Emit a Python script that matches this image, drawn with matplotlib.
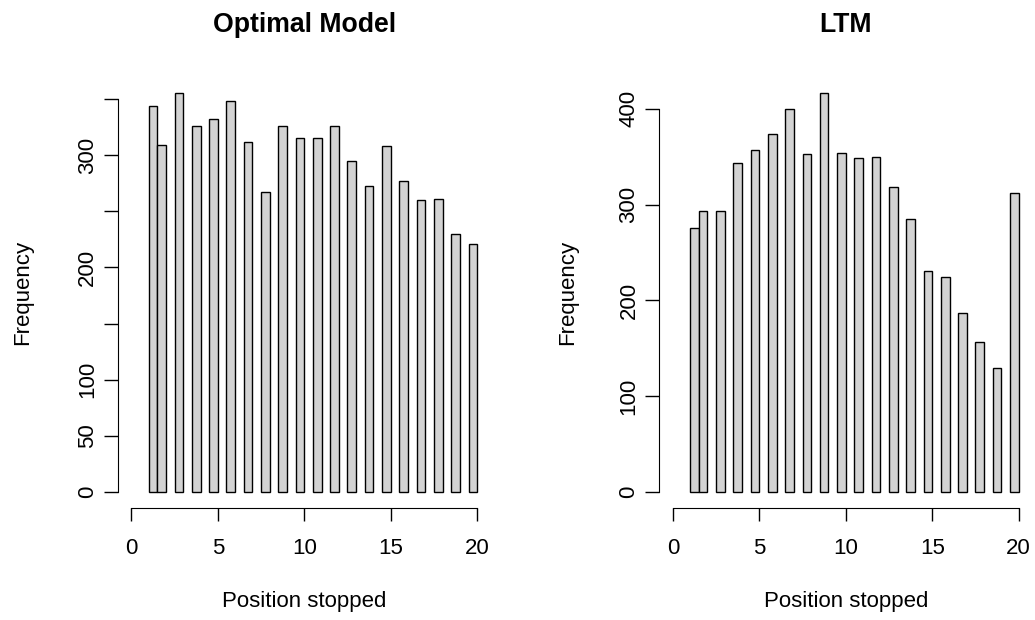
import numpy as np
from matplotlib import pyplot as plt

plt.rcParams['font.family'] = ['Liberation Sans', 'DejaVu Sans']

positions = np.arange(1, 21)
optimal_counts = [344, 309, 355, 326, 332, 348, 312, 267, 326, 315,
                  315, 326, 295, 273, 308, 277, 260, 261, 230, 221]
ltm_counts = [276, 293, 293, 343, 357, 374, 400, 353, 416, 354,
              349, 350, 318, 285, 231, 224, 187, 157, 129, 312]

optimal_yticks = [0, 50, 100, 150, 200, 250, 300, 350]
optimal_ylabels = ['0', '50', '100', '', '200', '', '300', '']
ltm_yticks = [0, 100, 200, 300, 400]
ltm_ylabels = ['0', '100', '200', '300', '400']
xticks = [0, 5, 10, 15, 20]

W, H = 1035, 620
fig = plt.figure(figsize=(W / 100, H / 100), dpi=100)

panels = [
    ("Optimal Model", optimal_counts, optimal_yticks, optimal_ylabels, 117.5, 23),
    ("LTM", ltm_counts, ltm_yticks, ltm_ylabels, 659.0, 568),
]

for title, counts, yt, yl, left_px, ylab_x in panels:
    ax = fig.add_axes([left_px / W, 112 / H, 373.5 / W, 430.5 / H])
    counts = np.array(counts)
    # R hist bins: [1,1.5], (1.5,2], (2.5,3], ...
    lefts = np.where(positions == 1, 1.0, positions - 0.5)
    ax.bar(lefts, counts, width=0.5, align='edge', color='#D3D3D3',
           edgecolor='black', linewidth=1.0)
    m = counts.max()
    ax.set_xlim(-0.8, 20.8)
    ax.set_ylim(-0.04 * m, 1.04 * m)
    for s in ['top', 'right']:
        ax.spines[s].set_visible(False)
    ax.spines['left'].set_bounds(yt[0], yt[-1])
    ax.spines['bottom'].set_bounds(0, 20)
    ax.set_xticks(xticks)
    ax.set_xticklabels([str(t) for t in xticks])
    ax.set_yticks(yt)
    ax.set_yticklabels(yl, rotation=90, va='center')
    ax.tick_params(axis='x', length=9.4, width=1.0, labelsize=16, pad=12)
    ax.tick_params(axis='y', length=10, width=1.0, labelsize=16, pad=4)
    cx = (left_px + 373.5 / 2) / W
    fig.text(cx, 1 - 25 / H, title, ha='center', va='center',
             fontsize=19.2, fontweight='bold')
    fig.text(cx, 1 - 602 / H, "Position stopped", ha='center', va='center',
             fontsize=16)
    fig.text(ylab_x / W, 1 - 292 / H, "Frequency", ha='center', va='center',
             rotation=90, fontsize=16)

fig.savefig("out.png", dpi=100)
